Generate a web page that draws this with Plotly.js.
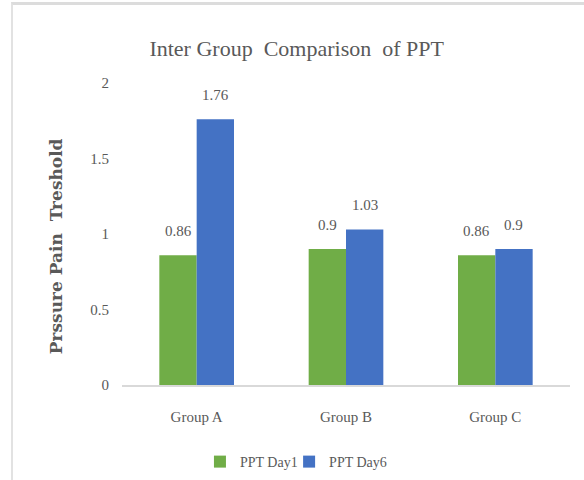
<!DOCTYPE html>
<html>
<head>
<meta charset="utf-8">
<script src="https://cdn.plot.ly/plotly-3.0.1.min.js"></script>
<style>
  html, body { margin: 0; padding: 0; background: #fff; }
  #wrap { position: relative; width: 584px; height: 480px; overflow: hidden; }
  #chart { width: 584px; height: 480px; }
  #frame { position: absolute; left: 11px; top: 2px; width: 600px; height: 500px;
           border-left: 2px solid #e2e2e2; border-top: 3px solid #dcdcdc; pointer-events: none; }
</style>
</head>
<body>
<div id="wrap">
  <div id="chart"></div>
  <div id="frame"></div>
</div>
<script>
const categories = ["Group A", "Group B", "Group C"];
const seriesNames = ["PPT Day1", "PPT Day6"];
const day1 = [0.86, 0.9, 0.86];
const day6 = [1.76, 1.03, 0.9];
const yTicks = [0, 0.5, 1, 1.5, 2];
const yTickLabels = ["0", "0.5", "1", "1.5", "2"];
const yTitle = "Prssure Pain  Treshold";

const serif = 'Liberation Serif, Times New Roman, serif';
const grey = '#595959';
const colors = ['#70AD47', '#4472C4'];
const series = [day1, day6];
const legendIds = ['legend', 'legend2'];

const traces = series.map((vals, i) => ({
  type: 'bar',
  name: seriesNames[i],
  x: categories,
  y: vals,
  marker: { color: colors[i] },
  legend: legendIds[i],
  hoverinfo: 'none'
}));

const barShift = 18.5;
const annotations = [];
series.forEach((vals, i) => {
  vals.forEach((v, j) => {
    annotations.push({
      x: categories[j], y: v, xref: 'x', yref: 'y',
      text: String(v), showarrow: false,
      xshift: (i === 0 ? -barShift : barShift), yshift: 24,
      yanchor: 'middle', xanchor: 'center',
      font: { family: serif, size: 15, color: grey }
    });
  });
});
// y-axis title (placed as an annotation to match reference offset)
annotations.push({
  xref: 'paper', yref: 'paper', x: -0.147, y: 0.46,
  xanchor: 'center', yanchor: 'middle', textangle: -90, showarrow: false,
  text: '<b>' + yTitle + '</b>',
  font: { family: 'DejaVu Serif', size: 17, color: grey }
});

const legendBase = {
  orientation: 'h', xanchor: 'left', y: -0.255, yanchor: 'middle',
  font: { family: serif, size: 14, color: grey },
  itemwidth: 30, bgcolor: 'rgba(0,0,0,0)'
};

const layout = {
  width: 584, height: 480,
  margin: { l: 122, r: 14, t: 83, b: 95, autoexpand: false },
  paper_bgcolor: '#fff', plot_bgcolor: '#fff',
  showlegend: true,
  barmode: 'group', bargap: 0.5, bargroupgap: 0,
  title: { text: 'Inter Group  Comparison  of PPT', x: 0.508, xanchor: 'center',
           y: 0.9, yanchor: 'middle', yref: 'container',
           font: { family: serif, size: 22, color: grey } },
  xaxis: {
    showline: true, linecolor: '#d9d9d9', linewidth: 1.5,
    ticks: '', showgrid: false, zeroline: false, automargin: false,
    tickfont: { family: serif, size: 15, color: grey },
    ticklabelstandoff: 17, fixedrange: true
  },
  yaxis: {
    range: [0, 2], tickvals: yTicks, ticktext: yTickLabels,
    showline: false, showgrid: false, zeroline: false, ticks: '', automargin: false,
    tickfont: { family: serif, size: 15, color: grey },
    ticklabelstandoff: 12, fixedrange: true
  },
  legend: Object.assign({}, legendBase, { x: 0.174 }),
  legend2: Object.assign({}, legendBase, { x: 0.373 }),
  annotations: annotations
};

Plotly.newPlot('chart', traces, layout, { displayModeBar: false, staticPlot: true });
</script>
</body>
</html>
